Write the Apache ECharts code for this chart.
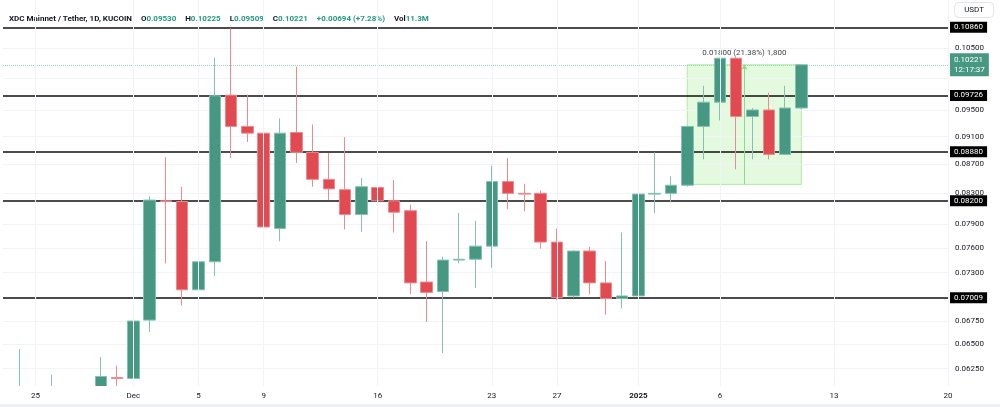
<!DOCTYPE html>
<html>
<head>
<meta charset="utf-8">
<title>XDC Mainnet / Tether 1D</title>
<script src="https://cdn.jsdelivr.net/npm/echarts@6/dist/echarts.min.js"></script>
<style>
  html, body { margin: 0; padding: 0; background: #fff; }
  #main { width: 1000px; height: 407px; }
</style>
</head>
<body>
<div id="main"></div>
<script>
// daily candles, 23 Nov 2024 .. 20 Jan 2025 (last 9 days are empty space)
var days = [
  '2024-11-23', '2024-11-24', '2024-11-25', '2024-11-26', '2024-11-27', '2024-11-28', '2024-11-29', '2024-11-30',
  '2024-12-01', '2024-12-02', '2024-12-03', '2024-12-04', '2024-12-05', '2024-12-06', '2024-12-07', '2024-12-08',
  '2024-12-09', '2024-12-10', '2024-12-11', '2024-12-12', '2024-12-13', '2024-12-14', '2024-12-15', '2024-12-16',
  '2024-12-17', '2024-12-18', '2024-12-19', '2024-12-20', '2024-12-21', '2024-12-22', '2024-12-23', '2024-12-24',
  '2024-12-25', '2024-12-26', '2024-12-27', '2024-12-28', '2024-12-29', '2024-12-30', '2024-12-31',
  '2025-01-01', '2025-01-02', '2025-01-03', '2025-01-04', '2025-01-05', '2025-01-06', '2025-01-07', '2025-01-08',
  '2025-01-09', '2025-01-10', '2025-01-11', '2025-01-12', '2025-01-13', '2025-01-14', '2025-01-15', '2025-01-16',
  '2025-01-17', '2025-01-18', '2025-01-19', '2025-01-20'
];

var opens = [
  0.0596, 0.0598, 0.0600, 0.0596, 0.0600, 0.0598, 0.0601, 0.0616,
  0.0615, 0.0676, 0.0820, 0.0819, 0.0710, 0.0743, 0.0973, 0.0925,
  0.0915, 0.0784, 0.0916, 0.0887, 0.0849, 0.0835, 0.0802, 0.0838,
  0.0820, 0.0807, 0.0719, 0.0708, 0.0745, 0.0746, 0.0762, 0.0846,
  0.0830, 0.0830, 0.0767, 0.0703, 0.0756, 0.0718, 0.0700,
  0.0703, 0.0829, 0.0830, 0.0841, 0.0925, 0.0962, 0.1033, 0.0940,
  0.0950, 0.0884, 0.09530
];
var closes = [
  0.0600, 0.0602, 0.0596, 0.0600, 0.0598, 0.0601, 0.0617, 0.0615,
  0.0675, 0.0821, 0.0819, 0.0710, 0.0743, 0.0972, 0.0925, 0.0915,
  0.0786, 0.0915, 0.0887, 0.0849, 0.0836, 0.0802, 0.0839, 0.0820,
  0.0805, 0.0718, 0.0707, 0.0745, 0.0746, 0.0762, 0.0846, 0.0830,
  0.0829, 0.0767, 0.0701, 0.0756, 0.0718, 0.0700, 0.0703,
  0.0829, 0.0830, 0.0841, 0.0925, 0.0962, 0.1033, 0.0940, 0.0950,
  0.0884, 0.0953, 0.10221
];
var lows = [
  0.0590, 0.0592, 0.0590, 0.0588, 0.0592, 0.0594, 0.0597, 0.0604,
  0.0606, 0.0663, 0.0741, 0.0692, 0.0690, 0.0726, 0.0879, 0.0902,
  0.0754, 0.0768, 0.0872, 0.0839, 0.0821, 0.0783, 0.0780, 0.0783,
  0.0779, 0.0705, 0.0674, 0.0641, 0.0741, 0.0712, 0.0736, 0.0809,
  0.0806, 0.0759, 0.0698, 0.0701, 0.0705, 0.0682, 0.0689,
  0.0675, 0.0804, 0.0818, 0.0839, 0.0877, 0.0934, 0.0863, 0.0877,
  0.0877, 0.0884, 0.09509
];
var highs = [
  0.0649, 0.0645, 0.0606, 0.0619, 0.0605, 0.0606, 0.0637, 0.0628,
  0.0684, 0.0826, 0.0880, 0.0839, 0.0778, 0.1034, 0.1084, 0.0974,
  0.0936, 0.0937, 0.1019, 0.0928, 0.0886, 0.0909, 0.0851, 0.0879,
  0.0848, 0.0815, 0.0768, 0.0749, 0.0804, 0.0794, 0.0868, 0.0879,
  0.0843, 0.0834, 0.0784, 0.0757, 0.0761, 0.0744, 0.0779,
  0.0831, 0.0887, 0.0853, 0.0926, 0.0988, 0.1034, 0.1036, 0.0953,
  0.0977, 0.0988, 0.10225
];

// labelled days on the time scale
var xTickDays = ['2024-11-25', '2024-12-01', '2024-12-05', '2024-12-09', '2024-12-16', '2024-12-23',
  '2024-12-27', '2025-01-01', '2025-01-06', '2025-01-13', '2025-01-20'];
var monthNames = ['Jan', 'Feb', 'Mar', 'Apr', 'May', 'Jun', 'Jul', 'Aug', 'Sep', 'Oct', 'Nov', 'Dec'];

// price scale ticks (log scale); two of them sit under the level labels
var yTicks = [0.105, 0.100, 0.095, 0.091, 0.087, 0.083, 0.079, 0.076, 0.073, 0.070, 0.0675, 0.065, 0.0625];
var yHiddenLabels = [0.100, 0.070];

// horizontal levels drawn on the chart
var levels = [0.10860, 0.09726, 0.08880, 0.08200, 0.07009];
var lastPrice = 0.10221;
var lastTime = '12:17:37';

// price range measurement
var measureLow = 0.08421;
var measureHigh = 0.10221;
var measureFrom = '2025-01-04';
var measureTo = '2025-01-11';
var measureText = '0.01800 (21.38%) 1,800';

var upColor = '#469883';
var downColor = '#e04a50';
var upWick = '#86c0b0';
var downWick = '#ec8a8e';
var font = 'Roboto, "Liberation Sans", sans-serif';

var candles = opens.map(function (o, i) {
  return [o, closes[i], lows[i], highs[i]];
});

// the arrow of the range tool sits in the middle of the box
var measureMid = (days.indexOf(measureFrom) + days.indexOf(measureTo)) / 2;

function isTickDay(index, value) {
  return xTickDays.indexOf(value) >= 0;
}

// full-width horizontal line through the price v
function hLine(v, lineStyle, label) {
  return [
    { coord: [days[0], v], lineStyle: lineStyle, label: label },
    { coord: [days[days.length - 1], v] }
  ];
}

var chart = echarts.init(document.getElementById('main'));

var option = {
  animation: false,
  backgroundColor: '#ffffff',
  textStyle: { fontFamily: font },
  title: [
    {
      left: 4,
      top: 5,
      text: '{t|XDC Mainnet / Tether, 1D, KUCOIN}  {k|O}{v|0.09530}  {k|H}{v|0.10225}  {k|L}{v|0.09509}  {k|C}{v|0.10221}  {v|+0.00694 (+7.28%)}  {k|Vol}{v|11.3M}',
      textStyle: {
        rich: {
          t: { fontSize: 8, color: '#131722', fontFamily: font },
          k: { fontSize: 8, color: '#131722', fontFamily: font },
          v: { fontSize: 8, color: '#22997f', fontFamily: font }
        }
      }
    },
    {
      right: 6,
      top: 2,
      text: 'USDT',
      padding: [4, 10],
      borderWidth: 1,
      borderColor: '#e0e3eb',
      borderRadius: 4,
      textStyle: { fontSize: 8, fontWeight: 'normal', color: '#131722', fontFamily: font }
    }
  ],
  graphic: [
    {
      // hide candle parts that fall below the price pane
      type: 'rect',
      left: 0,
      bottom: 0,
      z: 4,
      silent: true,
      shape: { width: 1000, height: 21 },
      style: { fill: '#ffffff' }
    },
    {
      type: 'rect',
      left: 0,
      bottom: 0,
      z: 4,
      silent: true,
      shape: { width: 1000, height: 3 },
      style: { fill: '#eef0f4' }
    }
  ],
  grid: { left: 3, right: 52, top: 0, bottom: 21 },
  xAxis: [
    {
      type: 'category',
      data: days,
      z: 10,
      boundaryGap: false,
      axisLine: { show: false },
      axisTick: { show: false },
      axisLabel: {
        interval: isTickDay,
        margin: 6,
        fontSize: 8,
        color: '#131722',
        formatter: function (v) {
          var p = v.split('-');
          if (p[2] === '01') {
            return p[1] === '01' ? '{b|' + p[0] + '}' : monthNames[+p[1] - 1];
          }
          return String(+p[2]);
        },
        rich: { b: { fontSize: 8, fontWeight: 'bold', color: '#131722' } }
      },
      splitLine: { show: true, interval: isTickDay, lineStyle: { color: '#f0f3fa', width: 1 } }
    },
    {
      // same days as a plain number line, only used for the range arrow
      type: 'value',
      min: 0,
      max: days.length - 1,
      show: false,
      splitLine: { show: false }
    }
  ],
  yAxis: {
    type: 'log',
    position: 'right',
    min: 0.06076,
    max: 0.11351,
    axisLine: { show: false },
    axisTick: { show: false },
    axisLabel: { show: false },
    splitLine: { show: false }
  },
  series: [
    {
      name: 'scale',
      type: 'line',
      data: [],
      silent: true,
      markLine: {
        z: 1,
        silent: true,
        symbol: ['none', 'none'],
        data: yTicks.map(function (v) {
          return hLine(v, { color: '#f0f3fa', width: 1, type: 'solid' }, {
            show: yHiddenLabels.indexOf(v) < 0,
            position: 'end',
            distance: 7,
            fontSize: 8,
            color: '#131722',
            fontFamily: font,
            formatter: v.toFixed(5)
          });
        })
      },
      markArea: {
        z: 0.5,
        silent: true,
        itemStyle: {
          color: 'rgba(190, 243, 178, 0.42)',
          borderColor: 'rgba(150, 225, 135, 0.7)',
          borderWidth: 1
        },
        label: {
          show: true,
          position: 'top',
          distance: 7,
          fontSize: 8,
          color: '#444',
          fontFamily: font,
          formatter: measureText
        },
        data: [[
          { xAxis: measureFrom, yAxis: measureLow },
          { xAxis: measureTo, yAxis: measureHigh }
        ]]
      }
    },
    {
      name: 'levels',
      type: 'line',
      data: [],
      silent: true,
      markLine: {
        z: 1.5,
        silent: true,
        symbol: ['none', 'none'],
        data: levels.map(function (v) {
          return hLine(v, { color: '#111111', width: 1.5, type: 'solid' }, {
            position: 'end',
            distance: 2,
            fontSize: 8,
            color: '#ffffff',
            backgroundColor: '#000000',
            padding: [2, 4, 1, 4],
            fontFamily: font,
            formatter: v.toFixed(5)
          });
        }).concat([
          hLine(lastPrice, { color: '#9fd0c4', width: 1, type: 'dotted' }, {
            position: 'end',
            distance: 2,
            fontSize: 8,
            lineHeight: 10,
            color: '#ffffff',
            backgroundColor: upColor,
            padding: [2, 4, 1, 4],
            fontFamily: font,
            formatter: lastPrice.toFixed(5) + '\n' + lastTime
          })
        ])
      }
    },
    {
      name: 'range arrow',
      type: 'line',
      xAxisIndex: 1,
      data: [],
      silent: true,
      markLine: {
        z: 1.5,
        silent: true,
        symbol: ['none', 'arrow'],
        symbolSize: 5,
        lineStyle: { color: '#8fd98a', width: 1, type: 'solid' },
        label: { show: false },
        data: [[
          { coord: [measureMid, measureLow] },
          { coord: [measureMid, measureHigh] }
        ]]
      }
    },
    {
      name: 'XDC/USDT',
      type: 'candlestick',
      data: candles,
      z: 2,
      barWidth: 12,
      itemStyle: {
        color: upColor,
        color0: downColor,
        borderColor: upWick,
        borderColor0: downWick,
        borderWidth: 1
      }
    }
  ]
};

chart.setOption(option);
</script>
</body>
</html>
